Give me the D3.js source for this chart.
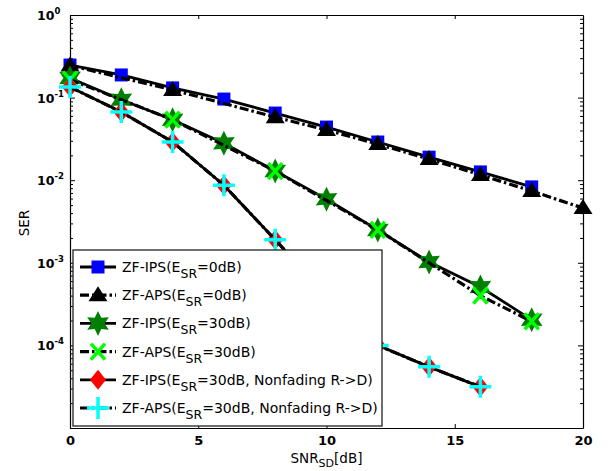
<!DOCTYPE html>
<html>
<head>
<meta charset="utf-8">
<title>SER vs SNR</title>
<script src="https://d3js.org/d3.v7.min.js"></script>
<style>
  body { margin: 0; background: #fff; }
  svg { display: block; }
</style>
</head>
<body>
<svg id="chart"></svg>
<script>

// data (SNR_SD in dB, SER)
let xIps0 = [0, 2, 4, 6, 8, 10, 12, 14, 16, 18];
let serIps0 = [0.248, 0.188, 0.131, 0.096, 0.065, 0.044, 0.029, 0.019, 0.0126, 0.0083];

let xAps0 = [0, 4, 8, 10, 12, 14, 16, 18, 20];
let serAps0 = [0.245, 0.124, 0.058, 0.0405, 0.0274, 0.018, 0.0116, 0.0074, 0.0046];

let xIps30 = [0, 2, 4, 6, 8, 10, 12, 14, 16, 18];
let serIps30 = [0.173, 0.094, 0.054, 0.028, 0.0129, 0.0059, 0.0025, 0.00102, 0.00051, 0.000204];

let xAps30 = [0, 4, 8, 12, 16, 18];
let serAps30 = [0.165, 0.054, 0.0129, 0.0025, 0.0004, 0.000195];

let xIpsNf = [0, 2, 4, 6, 8, 10, 12, 14, 16];
let serIpsNf = [0.134, 0.067, 0.029, 0.0087, 0.0019, 0.0004, 0.0001, 0.000055, 0.0000315];

let xApsNf = [0, 2, 4, 6, 8, 10, 12, 14, 16];
let serApsNf = [0.134, 0.067, 0.029, 0.0087, 0.0019, 0.0004, 0.0001, 0.000055, 0.0000315];

let xTicks = [0, 5, 10, 15, 20];
let yMajor = [1e-5, 1e-4, 1e-3, 1e-2, 1e-1, 1];
let yLabelExp = [-4, -3, -2, -1, 0];

// config
let config = {
  svg: { width: 612, height: 471 },
  plot: { left: 70, right: 583, top: 15, bottom: 428 }
};

let svg = d3.select('#chart')
  .attr('width', config.svg.width)
  .attr('height', config.svg.height);

let x = d3.scaleLinear().domain([0, 20]).range([config.plot.left, config.plot.right]);
let y = d3.scaleLog().domain([1e-5, 1]).range([config.plot.bottom, config.plot.top]);

// minor log ticks
let yMinor = [];
for (let e = -5; e < 0; e++) {
  for (let m = 2; m <= 9; m++) yMinor.push(m * Math.pow(10, e));
}

// marker shapes (sizes in px)
function polyType(points) {
  return {
    draw: function(ctx) {
      ctx.moveTo(points[0][0], points[0][1]);
      for (let i = 1; i < points.length; i++) ctx.lineTo(points[i][0], points[i][1]);
      ctx.closePath();
    }
  };
}
let squareType = polyType([[-6.5, -6.5], [6.5, -6.5], [6.5, 6.5], [-6.5, 6.5]]);
let triangleType = polyType([[0, -9], [9.5, 6], [-9.5, 6]]);
let diamondType = polyType([[0, -10], [8, 0], [0, 10], [-8, 0]]);
let hexPts = [];
for (let i = 0; i < 12; i++) {
  let r = i % 2 == 0 ? 12.5 : 6.6;
  let a = -Math.PI / 2 + i * Math.PI / 6;
  hexPts.push([r * Math.cos(a), r * Math.sin(a)]);
}
let hexagramType = polyType(hexPts);
let xType = {
  draw: function(ctx) {
    ctx.moveTo(-7, -8); ctx.lineTo(7, 8);
    ctx.moveTo(7, -8); ctx.lineTo(-7, 8);
  }
};
let plusType = {
  draw: function(ctx) {
    ctx.moveTo(-11, 0); ctx.lineTo(11, 0);
    ctx.moveTo(0, -11); ctx.lineTo(0, 11);
  }
};

let dashDot = '9,3,2.5,3';

let series = [
  { xs: xIps0, ys: serIps0, dash: null, type: squareType, fill: '#0000ff', stroke: 'none', sw: 0,
    name: 'ZF-IPS(E', sub: 'SR', rest: '=0dB)' },
  { xs: xAps0, ys: serAps0, dash: dashDot, type: triangleType, fill: '#000', stroke: 'none', sw: 0,
    name: 'ZF-APS(E', sub: 'SR', rest: '=0dB)' },
  { xs: xIps30, ys: serIps30, dash: null, type: hexagramType, fill: '#007f00', stroke: 'none', sw: 0,
    name: 'ZF-IPS(E', sub: 'SR', rest: '=30dB)' },
  { xs: xAps30, ys: serAps30, dash: dashDot, type: xType, fill: 'none', stroke: '#00ff00', sw: 3.5,
    name: 'ZF-APS(E', sub: 'SR', rest: '=30dB)' },
  { xs: xIpsNf, ys: serIpsNf, dash: null, type: diamondType, fill: '#ff0000', stroke: 'none', sw: 0,
    name: 'ZF-IPS(E', sub: 'SR', rest: '=30dB, Nonfading R->D)' },
  { xs: xApsNf, ys: serApsNf, dash: dashDot, type: plusType, fill: 'none', stroke: '#00ffff', sw: 3.5,
    name: 'ZF-APS(E', sub: 'SR', rest: '=30dB, Nonfading R->D)' }
];

// axes
let axisColor = '#000';
let tickFont = 'DejaVu Sans, Verdana, sans-serif';

// top border + ticks
svg.append('g')
  .attr('transform', translate(0, config.plot.top))
  .call(d3.axisTop(x).tickValues([5, 10, 15]).tickSizeInner(-4).tickSizeOuter(0).tickFormat(''))
  .call(g => g.select('.domain').attr('stroke-width', 1.2));

// right border + ticks
svg.append('g')
  .attr('transform', translate(config.plot.right, 0))
  .call(d3.axisRight(y).tickValues(yMajor).tickSizeInner(-5).tickSizeOuter(0).tickFormat(''))
  .call(g => g.select('.domain').attr('stroke-width', 1.2));
svg.append('g')
  .attr('transform', translate(config.plot.right, 0))
  .call(d3.axisRight(y).tickValues(yMinor).tickSizeInner(-3).tickSizeOuter(0).tickFormat(''))
  .call(g => g.select('.domain').remove());

// bottom axis
let xAxis = svg.append('g')
  .attr('transform', translate(0, config.plot.bottom))
  .call(d3.axisBottom(x).tickValues(xTicks).tickSizeInner(-4).tickSizeOuter(0).tickPadding(8));
xAxis.select('.domain').attr('stroke-width', 1.2);
xAxis.selectAll('text')
  .attr('font-family', tickFont).attr('font-weight', 'bold').attr('font-size', 13).attr('fill', axisColor);

// left axis
let yAxis = svg.append('g')
  .attr('transform', translate(config.plot.left, 0))
  .call(d3.axisLeft(y).tickValues(yMajor).tickSizeInner(-5).tickSizeOuter(0).tickFormat(''));
yAxis.select('.domain').attr('stroke-width', 1.2);
svg.append('g')
  .attr('transform', translate(config.plot.left, 0))
  .call(d3.axisLeft(y).tickValues(yMinor).tickSizeInner(-3).tickSizeOuter(0).tickFormat(''))
  .call(g => g.select('.domain').remove());

// y tick labels 10^e
yLabelExp.forEach(function(e) {
  let t = svg.append('text')
    .attr('x', 37)
    .attr('y', y(Math.pow(10, e)) + 5)
    .attr('font-family', tickFont).attr('font-weight', 'bold').attr('font-size', 12.5);
  t.append('tspan').text('10');
  t.append('tspan').attr('font-size', 8.5).attr('dy', -6).text(e == 0 ? '0' : '-' + Math.abs(e));
});

// axis labels
let labelFont = 'DejaVu Sans, Tahoma, sans-serif';
let xl = svg.append('text')
  .attr('x', (config.plot.left + config.plot.right) / 2)
  .attr('y', 463)
  .attr('text-anchor', 'middle')
  .attr('font-family', labelFont).attr('font-size', 13.5);
xl.append('tspan').text('SNR');
xl.append('tspan').attr('font-size', 11).attr('dy', 4).text('SD');
xl.append('tspan').attr('dy', -4).text('[dB]');

svg.append('text')
  .attr('transform', 'translate(29,223) rotate(-90)')
  .attr('text-anchor', 'middle')
  .attr('font-family', labelFont).attr('font-size', 13.5)
  .text('SER');

// series
let plot = svg.append('g').attr('id', 'plot');
series.forEach(function(s) {
  let pts = s.xs.map((v, i) => [v, s.ys[i]]);
  let line = d3.line().x(d => x(d[0])).y(d => y(d[1]));
  plot.append('path')
    .datum(pts)
    .attr('fill', 'none')
    .attr('stroke', '#000')
    .attr('stroke-width', s.dash ? 3.2 : 2.8)
    .attr('stroke-dasharray', s.dash)
    .attr('d', line);
  plot.selectAll(null)
    .data(pts)
    .join('path')
    .attr('transform', d => translate(x(d[0]), y(d[1])))
    .attr('d', d3.symbol().type(s.type))
    .attr('fill', s.fill)
    .attr('stroke', s.stroke)
    .attr('stroke-width', s.sw);
});

// legend
let legend = svg.append('g').attr('id', 'legend');
legend.append('rect')
  .attr('x', 73).attr('y', 250)
  .attr('width', 309).attr('height', 176)
  .attr('fill', '#fff')
  .attr('stroke', '#222')
  .attr('stroke-width', 1.3);

series.forEach(function(s, i) {
  let cy = 267 + i * 28.2;
  legend.append('line')
    .attr('x1', 80).attr('x2', 116)
    .attr('y1', cy).attr('y2', cy)
    .attr('stroke', '#000')
    .attr('stroke-width', s.dash ? 3.2 : 2.8)
    .attr('stroke-dasharray', s.dash);
  legend.append('path')
    .attr('transform', translate(98, cy))
    .attr('d', d3.symbol().type(s.type))
    .attr('fill', s.fill)
    .attr('stroke', s.stroke)
    .attr('stroke-width', s.sw);
  let t = legend.append('text')
    .attr('x', 122).attr('y', cy + 5)
    .attr('font-family', labelFont).attr('font-size', 14);
  t.append('tspan').text(s.name);
  t.append('tspan').attr('font-size', 12.5).attr('dy', 6).text(s.sub);
  t.append('tspan').attr('dy', -6).text(s.rest);
});

// helper method to make translating easier
function translate(x, y) {
  return 'translate(' + x + ',' + y + ')';
}

</script>
</body>
</html>
